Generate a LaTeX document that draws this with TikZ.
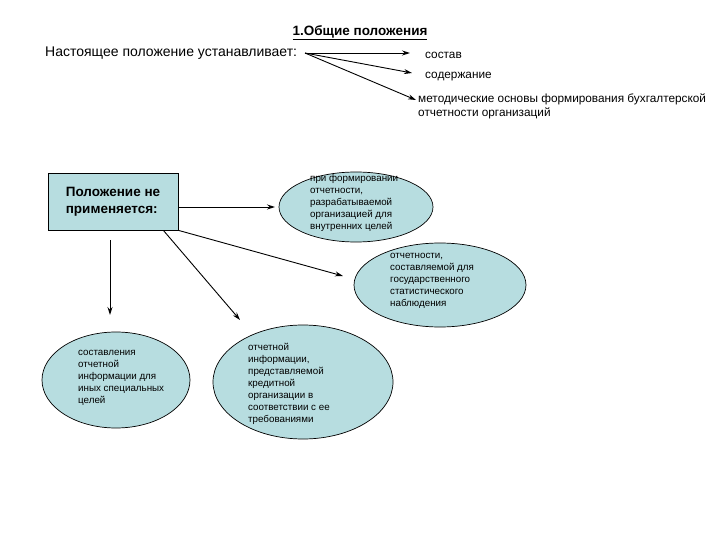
\documentclass[tikz,border=0pt]{standalone}
\usepackage{fontspec}
\setmainfont{Liberation Sans}
\usetikzlibrary{shapes.geometric,arrows.meta}
\definecolor{fillb}{RGB}{183,221,224}
\begin{document}
\begin{tikzpicture}[x=1pt,y=-1pt,
  arr/.style={-{Stealth[length=8pt,width=5pt]},line width=0.9pt},
  ell/.style={ellipse,draw,fill=fillb,line width=0.7pt,inner sep=0pt},
  etxt/.style={font=\fontsize{9.8}{12}\selectfont,align=left,anchor=north west,inner sep=0pt},
  ttxt/.style={font=\fontsize{11.8}{14}\selectfont,align=left,anchor=west,inner sep=0pt}]
\useasboundingbox (0,0) rectangle (720,540);
\node[font=\bfseries\fontsize{13.5}{15}\selectfont] (title) at (360,33) {\underline{1.Общие положения}};
\node[font=\fontsize{14}{16}\selectfont,anchor=west,inner sep=0pt] (intro) at (45,53) {Настоящее положение устанавливает:};
\coordinate (s) at (305,53);
\node[ttxt] (t1) at (425,55) {состав};
\node[ttxt] (t2) at (425,77) {содержание};
\node[ttxt,anchor=north west] (t3) at (418,94) {методические основы формирования бухгалтерской\\отчетности организаций};
\draw[arr] (s) -- (410,53);
\draw[arr] (s) -- (412,73);
\draw[arr] (s) -- (416,100);
\node[draw,fill=fillb,line width=0.7pt,minimum width=130,minimum height=57,font=\bfseries\fontsize{13.5}{17}\selectfont,align=left] (box) at (113,201.5) {Положение не\\применяется:};
\node[ell,minimum width=154,minimum height=70] (e1) at (356,207) {};
\node[etxt] at (310,174) {при формировании\\отчетности,\\разрабатываемой\\организацией для\\внутренних целей};
\node[ell,minimum width=172,minimum height=84] (e2) at (440,285) {};
\node[etxt] at (390,253) {отчетности,\\составляемой для\\государственного\\статистического\\наблюдения};
\node[ell,minimum width=148,minimum height=96] (e3) at (116,380) {};
\node[etxt] at (78,350) {составления\\отчетной\\информации для\\иных специальных\\целей};
\node[ell,minimum width=180,minimum height=114] (e4) at (303,382) {};
\node[etxt] at (248,343) {отчетной\\информации,\\представляемой\\кредитной\\организации в\\соответствии с ее\\требованиями};
\coordinate (a1) at (275,207);
\coordinate (a2) at (343,276);
\coordinate (a3) at (240,320);
\coordinate (a4) at (110,315);
\draw[arr] (box.east |- a1) -- (a1);
\draw[arr] (box.south east) -- (a2);
\draw[arr] ([xshift=-15pt]box.south east) -- (a3);
\draw[arr] (110,240) -- (a4);
\end{tikzpicture}
\end{document}
